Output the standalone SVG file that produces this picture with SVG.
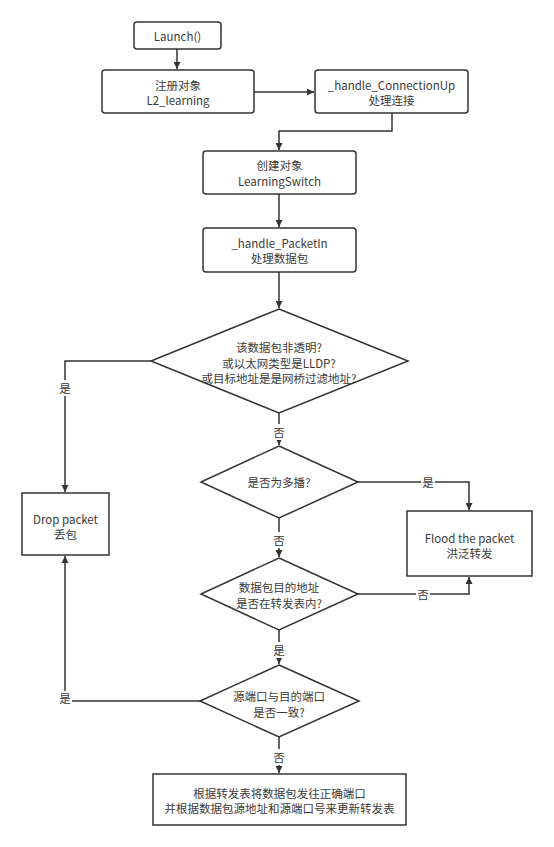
<svg xmlns="http://www.w3.org/2000/svg" width="554" height="847" viewBox="0 0 554 847">
<style>
.n{fill:#fff;stroke:#333;stroke-width:1.5}
.t{font-family:"Noto Sans CJK SC","Open Sans",sans-serif;font-size:11.5px;fill:#3a3a3a;text-anchor:middle;dominant-baseline:central}
.c{fill:none;stroke:#333;stroke-width:1.5}
.lb{fill:#fff}
</style>
<defs>
<marker id="a" viewBox="0 0 10 10" refX="10" refY="5" markerWidth="7" markerHeight="7" markerUnits="userSpaceOnUse" orient="auto">
<path d="M0,0L10,5L0,10z" fill="#333"/>
</marker>
</defs>
<rect width="554" height="847" fill="#fff"/>
<g id="connectors">
<path class="c" d="M177,49V69" marker-end="url(#a)"/>
<path class="c" d="M254,92H314" marker-end="url(#a)"/>
<path class="c" d="M392,113V131H279V150" marker-end="url(#a)"/>
<path class="c" d="M279,194V227" marker-end="url(#a)"/>
<path class="c" d="M279,272V308" marker-end="url(#a)"/>
<path class="c" d="M151,361H65V492" marker-end="url(#a)"/>
<path class="c" d="M279,413V445" marker-end="url(#a)"/>
<path class="c" d="M358,482H469V510" marker-end="url(#a)"/>
<path class="c" d="M279,518V557" marker-end="url(#a)"/>
<path class="c" d="M358,594H469V577" marker-end="url(#a)"/>
<path class="c" d="M279,630V664" marker-end="url(#a)"/>
<path class="c" d="M200,701H65V556" marker-end="url(#a)"/>
<path class="c" d="M279,737V773" marker-end="url(#a)"/>
<rect class="lb" x="58" y="380" width="14" height="16"/><text class="t" x="65" y="388">是</text>
<rect class="lb" x="272" y="424" width="14" height="16"/><text class="t" x="279" y="432">否</text>
<rect class="lb" x="421" y="474" width="14" height="16"/><text class="t" x="428" y="482">是</text>
<rect class="lb" x="272" y="532" width="14" height="16"/><text class="t" x="279" y="540">否</text>
<rect class="lb" x="416" y="586" width="14" height="16"/><text class="t" x="423" y="594">否</text>
<rect class="lb" x="272" y="642" width="14" height="16"/><text class="t" x="279" y="650">是</text>
<rect class="lb" x="57" y="691" width="15" height="16"/><text class="t" x="65" y="698">是</text>
<rect class="lb" x="272" y="749" width="14" height="16"/><text class="t" x="279" y="757">否</text>
</g>
<g id="launch"><rect class="n" x="134" y="22" width="87" height="27" rx="3"/><text class="t" x="177.5" y="35.5">Launch()</text></g>
<g id="l2"><rect class="n" x="102" y="70" width="152" height="43" rx="3"/><text class="t" x="178" y="84.5">注册对象</text><text class="t" x="178" y="100">L2_learning</text></g>
<g id="connup"><rect class="n" x="315" y="70" width="153" height="43" rx="3"/><text class="t" x="391.5" y="84.5">_handle_ConnectionUp</text><text class="t" x="391.5" y="100">处理连接</text></g>
<g id="create"><rect class="n" x="203" y="151" width="153" height="43" rx="3"/><text class="t" x="279.5" y="165">创建对象</text><text class="t" x="279.5" y="181">LearningSwitch</text></g>
<g id="packetin"><rect class="n" x="203" y="228" width="153" height="44" rx="3"/><text class="t" x="279.5" y="242.5">_handle_PacketIn</text><text class="t" x="279.5" y="258">处理数据包</text></g>
<g id="d1"><path class="n" d="M279,309L408,361L279,413L151,361Z"/><text class="t" x="279" y="347">该数据包非透明?</text><text class="t" x="279" y="362.5">或以太网类型是LLDP?</text><text class="t" x="279" y="378">或目标地址是是网桥过滤地址?</text></g>
<g id="d2"><path class="n" d="M279,446L358,482L279,518L201,482Z"/><text class="t" x="279" y="482">是否为多播?</text></g>
<g id="d3"><path class="n" d="M279,558L358,594L279,630L201,594Z"/><text class="t" x="279" y="587">数据包目的地址</text><text class="t" x="279" y="602.5">是否在转发表内?</text></g>
<g id="d4"><path class="n" d="M279,665L359,701L279,737L200,701Z"/><text class="t" x="279" y="696">源端口与目的端口</text><text class="t" x="279" y="711.5">是否一致?</text></g>
<g id="drop"><rect class="n" x="22" y="493" width="87" height="62"/><text class="t" x="65.5" y="518.5">Drop packet</text><text class="t" x="65.5" y="534">丢包</text></g>
<g id="flood"><rect class="n" x="407" y="511" width="125" height="65"/><text class="t" x="469.5" y="537.5">Flood the packet</text><text class="t" x="469.5" y="553">洪泛转发</text></g>
<g id="forward"><rect class="n" x="153" y="774" width="253" height="51"/><text class="t" x="279.5" y="792.5">根据转发表将数据包发往正确端口</text><text class="t" x="279.5" y="808">并根据数据包源地址和源端口号来更新转发表</text></g>
</svg>
